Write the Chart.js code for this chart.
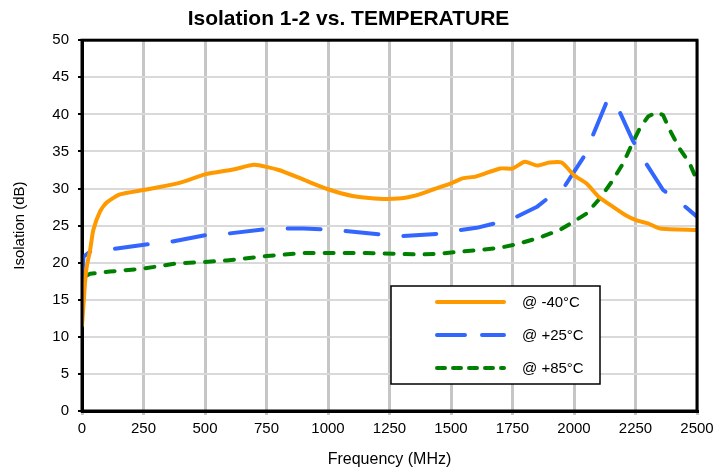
<!DOCTYPE html>
<html>
<head>
<meta charset="utf-8">
<script src="https://cdn.jsdelivr.net/npm/chart.js@4/dist/chart.umd.min.js"></script>
<style>
  html, body { margin: 0; padding: 0; background: #fff; }
  canvas { display: block; }
</style>
</head>
<body>
<canvas id="c" width="714" height="470"></canvas>
<script>
// ---- Data ----
const chartTitle = 'Isolation 1-2 vs. TEMPERATURE';
const xTitle = 'Frequency (MHz)';
const yTitle = 'Isolation (dB)';
const seriesNames = ['@ -40°C', '@ +25°C', '@ +85°C'];

const freqM40 = [0, 5, 12, 19, 33, 46, 73, 100, 154, 250, 300, 400, 500, 620, 700, 800, 900, 1000, 1100, 1225, 1300, 1350, 1430, 1500, 1550, 1600, 1700, 1750, 1800, 1850, 1900, 1950, 2000, 2050, 2100, 2160, 2210, 2255, 2300, 2350, 2500];
const isoM40  = [11.5, 13.8, 17.2, 19.4, 21.7, 24.4, 26.9, 28.1, 29.2, 29.8, 30.1, 30.8, 31.9, 32.6, 33.2, 32.5, 31.2, 29.9, 29.0, 28.6, 28.7, 29.0, 29.9, 30.7, 31.4, 31.6, 32.7, 32.7, 33.6, 33.1, 33.5, 33.5, 31.8, 30.7, 28.9, 27.5, 26.4, 25.7, 25.3, 24.6, 24.4];

const freqP25 = [0, 6, 33, 114, 270, 358, 500, 588, 744, 832, 900, 981, 1062, 1218, 1306, 1455, 1537, 1604, 1692, 1767, 1848, 1902, 1962, 2050, 2077, 2138, 2175, 2240, 2281, 2362, 2436, 2500];
const isoP25  = [17.5, 20.8, 21.5, 21.8, 22.5, 22.8, 23.7, 23.9, 24.5, 24.6, 24.6, 24.5, 24.3, 23.8, 23.6, 23.9, 24.4, 24.7, 25.4, 26.2, 27.5, 28.9, 30.3, 34.8, 37.2, 42.1, 41.1, 36.4, 34.0, 29.8, 28.0, 26.2];

const freqP85 = [0, 4, 33, 114, 249, 385, 500, 588, 751, 900, 1022, 1157, 1265, 1374, 1455, 1537, 1618, 1699, 1780, 1861, 1942, 1997, 2050, 2106, 2153, 2200, 2233, 2267, 2301, 2335, 2362, 2389, 2429, 2470, 2500];
const isoP85  = [15.8, 18.0, 18.5, 18.8, 19.2, 19.9, 20.1, 20.3, 20.9, 21.3, 21.3, 21.3, 21.2, 21.1, 21.2, 21.5, 21.7, 22.0, 22.6, 23.4, 24.4, 25.5, 26.6, 28.7, 30.9, 33.4, 35.8, 38.1, 39.7, 40.3, 39.9, 37.9, 35.4, 33.4, 31.1];

const xTicks = [0, 250, 500, 750, 1000, 1250, 1500, 1750, 2000, 2250, 2500];
const yTicks = [0, 5, 10, 15, 20, 25, 30, 35, 40, 45, 50];

// ---- Build ----
const pts = (xs, ys) => xs.map((x, i) => ({ x: x, y: ys[i] }));
const FONT = 'Liberation Sans, Arial, sans-serif';

const frameAndLegend = {
  id: 'frameAndLegend',
  afterDraw(chart) {
    const ctx = chart.ctx;
    const a = chart.chartArea;
    ctx.save();
    ctx.strokeStyle = '#000';
    ctx.lineWidth = 3;
    ctx.strokeRect(a.left, a.top, a.right - a.left, a.bottom - a.top);

    // legend box
    const bx = 391, by = 286, bw = 209, bh = 98;
    ctx.fillStyle = '#fff';
    ctx.fillRect(bx, by, bw, bh);
    ctx.lineWidth = 1.5;
    ctx.strokeStyle = '#000';
    ctx.strokeRect(bx, by, bw, bh);
    const rows = [302, 335, 368];
    const legendDash = [[], [28, 17], [8, 8]];
    chart.data.datasets.forEach((ds, i) => {
      const y = rows[i];
      ctx.beginPath();
      ctx.strokeStyle = ds.borderColor;
      ctx.lineWidth = ds.borderWidth;
      ctx.lineCap = 'round';
      ctx.setLineDash(legendDash[i]);
      ctx.moveTo(437, y);
      ctx.lineTo(504, y);
      ctx.stroke();
      ctx.setLineDash([]);
      ctx.fillStyle = '#000';
      ctx.font = '15px ' + FONT;
      ctx.textBaseline = 'middle';
      ctx.textAlign = 'left';
      ctx.fillText(ds.label, 522, y + 1);
    });
    ctx.restore();
  }
};

new Chart(document.getElementById('c'), {
  type: 'line',
  data: {
    datasets: [
      { label: seriesNames[0], data: pts(freqM40, isoM40), borderColor: '#FF9900', borderWidth: 4,
        pointRadius: 0, fill: false, tension: 0.2, borderCapStyle: 'round', borderJoinStyle: 'round' },
      { label: seriesNames[1], data: pts(freqP25, isoP25), borderColor: '#3366FF', borderWidth: 4,
        pointRadius: 0, fill: false, tension: 0, borderDash: [33, 25], borderCapStyle: 'round', borderJoinStyle: 'round' },
      { label: seriesNames[2], data: pts(freqP85, isoP85), borderColor: '#008000', borderWidth: 4,
        pointRadius: 0, fill: false, tension: 0, borderDash: [9, 11], borderCapStyle: 'round', borderJoinStyle: 'round' }
    ]
  },
  options: {
    responsive: false,
    animation: false,
    layout: { padding: { left: 0, right: 17, top: 0, bottom: 0 } },
    plugins: {
      legend: { display: false },
      tooltip: { enabled: false },
      title: {
        display: true, text: chartTitle, color: '#000',
        font: { family: FONT, size: 21, weight: 'bold' },
        padding: { top: 7, bottom: 8 }
      }
    },
    scales: {
      x: {
        type: 'linear', min: 0, max: 2500,
        afterBuildTicks(s) { s.ticks = xTicks.map(v => ({ value: v })); },
        ticks: { color: '#000', font: { family: FONT, size: 15 }, padding: 5, maxRotation: 0,
                 callback: v => String(v) },
        grid: { color: '#c6c6c6', lineWidth: 3, tickLength: 4, tickColor: '#c6c6c6' },
        border: { color: '#000', width: 3 },
        title: { display: true, text: xTitle, color: '#000', font: { family: FONT, size: 16 }, padding: { top: 0, bottom: 1 } },
        afterFit(s) { s.height = 59; s.paddingLeft = 0; s.paddingRight = 0; }
      },
      y: {
        min: 0, max: 50,
        afterBuildTicks(s) { s.ticks = yTicks.map(v => ({ value: v })); },
        ticks: { color: '#000', font: { family: FONT, size: 15 }, padding: 9, callback: v => String(v) },
        grid: { color: '#d9d9d9', lineWidth: 2, tickLength: 4, tickColor: '#000' },
        border: { color: '#000', width: 3 },
        title: { display: true, text: yTitle, color: '#000', font: { family: FONT, size: 15 }, padding: { top: 11, bottom: 0 } },
        afterFit(s) { s.width = 82; s.paddingTop = 0; s.paddingBottom = 0; }
      }
    }
  },
  plugins: [frameAndLegend]
});
</script>
</body>
</html>
